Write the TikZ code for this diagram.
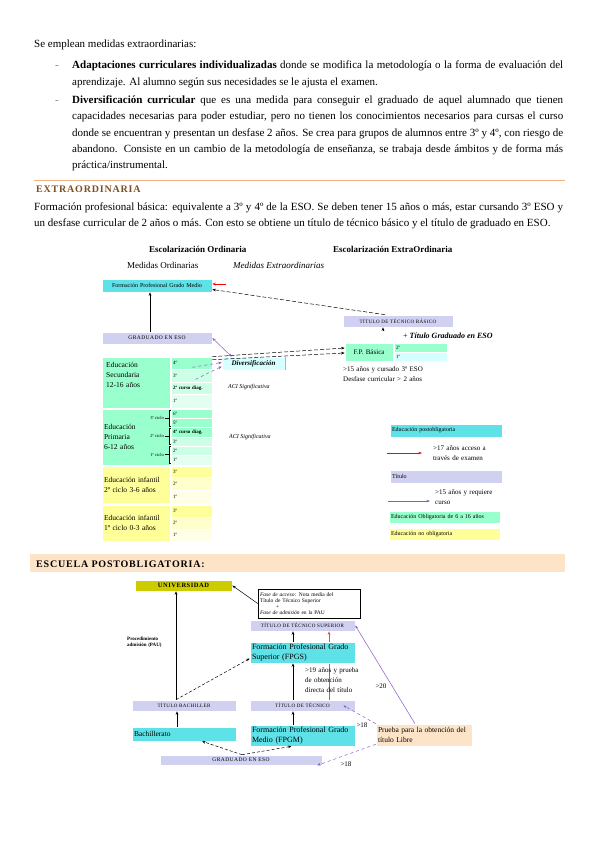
\documentclass[tikz,border=0pt]{standalone}
\usepackage{fontspec}
\setmainfont{Liberation Serif}
\newfontfamily\spacedfont[LetterSpace=8]{Liberation Serif}
\usetikzlibrary{arrows.meta,calc}
\definecolor{fpcyan}{RGB}{94,226,232}
\definecolor{titlav}{RGB}{208,208,240}
\definecolor{obgreen}{RGB}{153,255,204}
\definecolor{obgreenl}{RGB}{204,255,230}
\definecolor{obgreenx}{RGB}{226,255,242}
\definecolor{noyel}{RGB}{255,255,153}
\definecolor{noyell}{RGB}{255,255,204}
\definecolor{noyelx}{RGB}{255,255,232}
\definecolor{divcyan}{RGB}{214,255,255}
\definecolor{unolive}{RGB}{204,204,0}
\definecolor{peach}{RGB}{253,228,200}
\definecolor{headbrown}{RGB}{128,78,30}
\definecolor{headline}{RGB}{244,177,131}
\definecolor{lilac}{RGB}{140,90,200}
\definecolor{redline}{RGB}{240,70,70}
\newcommand{\fillcell}[7]{% box #1 spanning (#2,#3) to (#4,#5), style #6, text #7
  \pgfmathsetmacro\cellw{(#4)-(#2)}%
  \pgfmathsetmacro\celltw{(#4)-(#2)-4}%
  \pgfmathsetmacro\cellh{(#5)-(#3)}%
  \pgfmathsetmacro\cellx{((#2)+(#4))/2}%
  \pgfmathsetmacro\celly{((#3)+(#5))/2}%
  \node[cellbox, minimum width=\cellw pt, minimum height=\cellh pt,
    text width=\celltw pt, #6] (#1) at (\cellx,\celly) {#7};
}

\begin{document}
\begin{tikzpicture}[x=1pt,y=-1pt,
  body/.style={font=\fontsize{11}{16.5}\selectfont, inner sep=0pt},
  cellbox/.style={inner xsep=2pt, inner ysep=0pt, align=center, draw=white,
    line width=0.6pt, font=\fontsize{6}{7}\selectfont},
  capsfont/.style={font=\spacedfont\fontsize{5}{6}\selectfont},
  edulbl/.style={font=\fontsize{7.5}{10}\selectfont},
  rowfont/.style={font=\fontsize{5}{6}\selectfont},
  note/.style={font=\fontsize{7}{10}\selectfont, inner sep=0pt, align=left},
  arr/.style={-{Stealth[length=3.5pt,width=2.6pt]}, line width=0.5pt},
  arrboth/.style={{Stealth[length=3.5pt,width=2.6pt]}-{Stealth[length=3.5pt,width=2.6pt]}, line width=0.5pt}]
  \useasboundingbox (0,0) rectangle (599,848);
  \fill[white] (0,0) rectangle (599,848);

  % texto superior
  \node[body, anchor=base west] (intro) at (34,48) {Se emplean medidas extraordinarias:};
  \node[body, anchor=base west, text=gray] (dash1) at (55,69) {-};
  \node[body, anchor=base west, text width=491, align=justify] (item1) at (72,69)
    {\textbf{Adaptaciones curriculares individualizadas} donde se modifica la metodología o la forma de evaluación del\linebreak
     aprendizaje. Al alumno según sus necesidades se le ajusta el examen.};
  \node[body, anchor=base west, text=gray] (dash2) at (55,103) {-};
  \node[body, anchor=base west, text width=491, align=justify] (item2) at (72,103)
    {\textbf{Diversificación curricular} que es una medida para conseguir el graduado de aquel alumnado que tienen\linebreak
     capacidades necesarias para poder estudiar, pero no tienen los conocimientos necesarios para cursas el curso\linebreak
     donde se encuentran y presentan un desfase 2 años. Se crea para grupos de alumnos entre 3º y 4º, con riesgo de\linebreak
     abandono. Consiste en un cambio de la metodología de enseñanza, se trabaja desde ámbitos y de forma más\linebreak
     práctica/instrumental.};

  \draw[headline, line width=1pt] (34,180) -- (565,180);
  \node[anchor=base west, inner sep=0pt, text=headbrown,
    font=\spacedfont\fontsize{10}{12}\selectfont\bfseries] (hextra) at (36,192) {EXTRAORDINARIA};
  \node[body, anchor=base west, text width=529, align=justify] (fpbas) at (34,210)
    {Formación profesional básica: equivalente a 3º y 4º de la ESO. Se deben tener 15 años o más, estar cursando 3º ESO y\linebreak
     un desfase curricular de 2 años o más. Con esto se obtiene un título de técnico básico y el título de graduado en ESO.};

  % escolarizacion
  \node[anchor=base west, inner sep=0pt, font=\fontsize{9}{11}\selectfont\bfseries] (hord) at (149,252) {Escolarización Ordinaria};
  \node[anchor=base west, inner sep=0pt, font=\fontsize{9}{11}\selectfont\bfseries] (hext) at (333,252) {Escolarización ExtraOrdinaria};
  \node[anchor=base west, inner sep=0pt, font=\fontsize{9}{11}\selectfont] (mord) at (127,268) {Medidas Ordinarias};
  \node[anchor=base west, inner sep=0pt, font=\fontsize{9}{11}\selectfont\itshape] (mext) at (233,268) {Medidas Extraordinarias};

  \fillcell{fpgm1}{102}{279}{212}{292}{fill=fpcyan}{Formación Profesional Grado Medio}
  \fillcell{gradeso1}{102}{332}{212}{344}{fill=titlav, capsfont, font=\spacedfont\fontsize{5.5}{6}\selectfont}{GRADUADO EN ESO}
  \fillcell{ttb}{343}{315}{453}{327}{fill=titlav, capsfont}{TÍTULO DE TÉCNICO BÁSICO}
  \fillcell{fpb}{345}{343}{393}{361}{fill=obgreen, font=\fontsize{7}{8}\selectfont}{F.P. Básica}
  \fillcell{fpb2}{394}{343}{447}{352}{fill=obgreen, align=left, rowfont}{2º}
  \fillcell{fpb1}{394}{352}{447}{361}{fill=divcyan, align=left, rowfont}{1º}
  \node[anchor=base west, inner sep=0pt, font=\fontsize{8}{9}\selectfont] (titgrad) at (403,338)
    {+ \textbf{\textit{Título Graduado en ESO}}};
  \fillcell{div}{222}{357}{285}{370}{fill=divcyan, font=\fontsize{7}{8}\selectfont\bfseries\itshape}{Diversificación}
  \draw[gray!60, line width=0.8pt] (div.north east) -- (div.south east);

  \fillcell{sec}{102}{357}{170}{408}{fill=obgreen}{}
  \node[edulbl, anchor=base west, inner sep=0pt, text width=62, align=left] (seclbl) at (106,367)
    {Educación\\Secundaria\\12-16 años};
  \fillcell{pri}{102}{409}{170}{465}{fill=obgreen, edulbl, align=left}{Educación\\Primaria\\6-12 años\\[8pt]}
  \fillcell{inf2}{102}{466}{170}{503}{fill=noyel, edulbl, align=left}{Educación infantil\\2º ciclo 3-6 años}
  \fillcell{inf1}{102}{505}{170}{541}{fill=noyel, edulbl, align=left}{Educación infantil\\1º ciclo 0-3 años}
  \foreach \nm/\ya/\yb/\col/\txt in {
      s4/357/369/obgreen/4º, s3/369/382/obgreenl/3º, s2/382/394/obgreenl/{\textbf{2º curso diag.}}, s1/394/408/obgreenx/1º,
      p6/409/418/obgreen/6º, p5/418/427/obgreen/5º, p4/427/437/obgreen/{\textbf{4º curso diag.}},
      p3/437/446/obgreenl/3º, p2/446/455/obgreenl/2º, p1/455/465/obgreenx/1º,
      i23/466/477/noyel/3º, i22/477/490/noyell/2º, i21/490/503/noyelx/1º,
      i13/505/517/noyel/3º, i12/517/529/noyell/2º, i11/529/541/noyelx/1º}
    {\fillcell{\nm}{171}{\ya}{212}{\yb}{fill=\col, align=left, rowfont}{\txt}}
  \foreach \lab/\ya/\yb in {3º ciclo/410/426, 2º ciclo/428/444, 1º ciclo/446/463} {
    \draw[line width=0.4pt] (171,\ya) -- (169,\ya) -- (169,\yb) -- (171,\yb);
    \node[anchor=east, inner xsep=1pt, inner ysep=0pt, font=\fontsize{4.5}{5}\selectfont] (c\ya) at (165,{(\ya+\yb)/2}) {\lab};
    \draw[line width=0.4pt] (c\ya.east) -- (169,{(\ya+\yb)/2});
  }
  \node[anchor=base west, inner sep=0pt, font=\fontsize{6}{7}\selectfont\itshape] (aci1) at (228,388) {ACI Significativa};
  \node[anchor=base west, inner sep=0pt, font=\fontsize{6}{7}\selectfont\itshape] (aci2) at (229,438) {ACI Significativa};
  \node[note, anchor=base west, text width=110] (req15) at (343,371)
    {>15 años y cursado 3º ESO\\Desfase curricular > 2 años};

  \draw[arr] ([xshift=-7pt]gradeso1.north) -- ([xshift=-7pt]fpgm1.south);
  \coordinate (redtail) at (226,284);
  \draw[arr, red, line width=0.7pt] (redtail) -- (fpgm1.east |- redtail);
  \draw[arr, dash pattern=on 4pt off 2pt] ([xshift=-13pt]ttb.north) -- ([yshift=-4pt]fpgm1.east);
  \coordinate (fpbtip) at (383,331);
  \draw[arr] (fpbtip) -- (fpbtip |- ttb.south);
  \draw[arr, dash pattern=on 4pt off 2pt] (s4.north east) -- ([yshift=4pt]fpb.west);
  \draw[arr, dash pattern=on 4pt off 2pt] ([yshift=-3pt]s4.north east) -- ([yshift=-1pt]fpb.west);
  \draw[arrboth, lilac] (gradeso1.east) -- ([xshift=10pt]div.north west);
  \draw[arr, lilac, dashed] ([shift={(1,-2)}]s4.south) -- ([yshift=1pt]div.west);
  \draw[arr, lilac, dashed] ([shift={(4,-3)}]s3.south) -- ([yshift=-3pt]div.west);

  % leyenda
  \fillcell{lgpost}{390}{424}{502}{437}{fill=fpcyan, align=left}{Educación postobligatoria}
  \coordinate (lgr1) at (387,453);
  \coordinate (lgr2) at (422,453);
  \draw[arr, red, line width=0.8pt] (lgr1) -- (lgr2);
  \node[note, anchor=base west, text width=64] (lgexam) at (433,450) {>17 años acceso a\\través de examen};
  \fillcell{lgtit}{390}{470}{502}{483}{fill=titlav, align=left}{Título}
  \coordinate (lgp1) at (388,501);
  \coordinate (lgp2) at (430,501);
  \draw[arr, lilac, line width=0.8pt] (lgp1) -- (lgp2);
  \node[note, anchor=base west, text width=64] (lgcurso) at (435,494) {>15 años y requiere\\curso};
  \fillcell{lgob}{389}{511}{500}{523}{fill=obgreen, align=left}{Educación Obligatoria de 6 a 16 años}
  \fillcell{lgnob}{389}{528}{500}{540}{fill=noyel, align=left}{Educación no obligatoria}

  % postobligatoria
  \fill[peach] (30,554) rectangle (565,572);
  \node[anchor=base west, inner sep=0pt,
    font=\spacedfont\fontsize{10}{12}\selectfont\bfseries] (hpost) at (36,567) {ESCUELA POSTOBLIGATORIA:};

  \fillcell{univ}{135}{580}{232}{591}{fill=unolive, font=\spacedfont\fontsize{6.5}{7}\selectfont\bfseries}{UNIVERSIDAD}
  \fillcell{fase}{258}{589}{360}{618}{fill=white, draw=black, line width=0.5pt, align=left,
    font=\fontsize{5.5}{6.2}\selectfont}{\textit{Fase de acceso}: Nota media del\\Título de Técnico Superior\\\hspace*{16pt}+\\\textit{Fase de admisión} en la PAU}
  \fillcell{tts}{250}{620}{355}{631}{fill=titlav, capsfont}{TÍTULO DE TÉCNICO SUPERIOR}
  \fillcell{tbach}{132}{700}{236}{711}{fill=titlav, capsfont}{TÍTULO BACHILLER}
  \fillcell{ttec}{250}{700}{355}{711}{fill=titlav, capsfont}{TÍTULO DE TÉCNICO}
  \fillcell{bach}{132}{727}{236}{741}{fill=fpcyan, align=left, font=\fontsize{7.5}{9}\selectfont}{Bachillerato}
  \fillcell{fpgm2}{250}{725}{355}{746}{fill=fpcyan, align=left, font=\fontsize{8}{10}\selectfont}{Formación Profesional Grado\\Medio (FPGM)}
  \fillcell{gesso2}{160}{755}{322}{765}{fill=titlav, font=\spacedfont\fontsize{5.5}{6}\selectfont}{GRADUADO EN ESO}
  \fillcell{prueba}{376}{724}{472}{746}{fill=peach, align=left, font=\fontsize{7.5}{9.5}\selectfont}{Prueba para la obtención del\\título Libre}
  \draw[arr, redline, line width=0.7pt] ([xshift=26.5pt]ttec.north) -- ([xshift=26.5pt]tts.south);
  \fillcell{fpgs}{250}{642}{355}{663}{fill=fpcyan, align=left, font=\fontsize{8}{10}\selectfont}{Formación Profesional Grado\\Superior (FPGS)}

  \node[anchor=base west, inner sep=0pt, text width=50, align=left,
    font=\fontsize{5}{6.5}\selectfont\bfseries] (pau) at (127,640) {Procedimiento\\admisión (PAU)};
  \node[note, anchor=base west, text width=70] (req19) at (305,672) {>19 años y prueba\\de obtención\\directa del título};
  \node[note] (gt20) at (381,686) {>20};
  \node[note] (gt18a) at (362,725) {>18};
  \node[note] (gt18b) at (346,764) {>18};

  \draw[arr] ([xshift=-8pt]tbach.north) -- ([xshift=-8pt]tbach.north |- univ.south);
  \draw[arr] (fase.west) -- (univ.east);
  \draw[arr, densely dashed] ([xshift=-8pt]tbach.north) -- ([yshift=-6pt]fpgs.west);
  \draw[arr] ([xshift=-9.5pt]fpgs.north) -- ([xshift=-9.5pt]tts.south);
  \draw[arr] ([xshift=-9.5pt]ttec.north) -- ([xshift=-9.5pt]fpgs.south);
  \draw[arr] ([xshift=-9.5pt]fpgm2.north) -- ([xshift=-9.5pt]ttec.south);
  \draw[arr] ([xshift=-7pt]bach.north) -- ([xshift=-7pt]tbach.south);
  \coordinate (gtop) at ([xshift=1pt]gesso2.north);
  \draw[arr, densely dashed] (gtop) -- ([xshift=18pt]bach.south);
  \draw[arr, densely dashed] (gtop) -- ([xshift=-11pt]fpgm2.south);
  \draw[arr, lilac] ([xshift=-9pt]prueba.north) -- (tts.east);
  \draw[arr, lilac, dashed] (prueba.north west) -- ([xshift=-12pt]ttec.east);
  \draw[arr, lilac, dashed] ([yshift=2pt]prueba.south west) -- ([xshift=-5pt]gesso2.south east);
\end{tikzpicture}
\end{document}
